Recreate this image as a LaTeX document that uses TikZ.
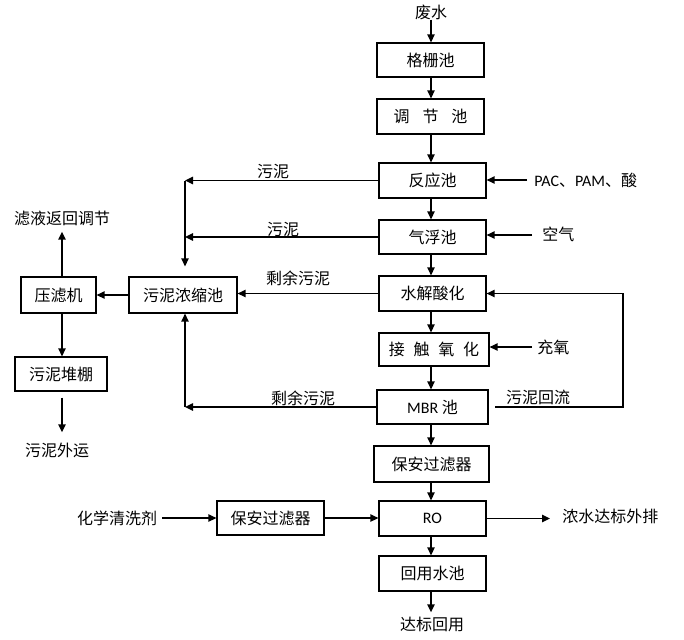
\documentclass[tikz,border=0pt]{standalone}
\usepackage{fontspec}
\setmainfont{Noto Sans CJK SC}
\newfontfamily\lat{Carlito}
\usetikzlibrary{arrows.meta,calc}
\begin{document}
\begin{tikzpicture}[x=0.75pt,y=-0.75pt,
 box/.style={draw,line width=0.9pt,inner sep=0pt,font=\fontsize{12}{14}\selectfont},
 sz/.style 2 args={minimum width=#1*0.75pt,minimum height=#2*0.75pt},
 lbl/.style={inner sep=0pt,font=\fontsize{12}{14}\selectfont},
 arr/.style={line width=1.1pt,-{Triangle[length=6pt,width=5.5pt]}},
 ln/.style={line width=1.1pt}]
\useasboundingbox[fill=white] (0,0) rectangle (684,639);
% main column
\node[lbl] (fs) at (431,12) {废水};
\node[box,sz={107}{34}] (gs) at (430.5,60) {格栅池};
\node[box,sz={107}{35}] (tj) at (430.5,116.5) {调\hspace{0.8em}节\hspace{0.8em}池};
\node[box,sz={107}{35}] (fy) at (432.5,180.5) {反应池};
\node[box,sz={107}{34}] (qf) at (432.5,237) {气浮池};
\node[box,sz={107}{35}] (sj) at (432.5,293.5) {水解酸化};
\node[box,sz={110}{33}] (jc) at (434,349.5) {接\hspace{0.55em}触\hspace{0.55em}氧\hspace{0.55em}化};
\node[box,sz={111}{34}] (mbr) at (432.5,407) {{\lat MBR} 池};
\node[box,sz={115}{36}] (bf1) at (431.5,464) {保安过滤器};
\node[box,sz={107}{35}] (ro) at (432.5,518.5) {\lat RO};
\node[box,sz={107}{35}] (hy) at (432.5,573.5) {回用水池};
\node[lbl] (db) at (432,624) {达标回用};
% bottom left / right
\node[box,sz={107}{34}] (bf2) at (270.5,518) {保安过滤器};
\node[lbl] (hx) at (117,518) {化学清洗剂};
\node[lbl,anchor=west] (ns) at (562,516) {浓水达标外排};
% inputs on the right
\node[lbl,anchor=west] (pac) at (534,180) {{\lat PAC}、{\lat PAM}、酸};
\node[lbl,anchor=west] (kq) at (542,234) {空气};
\node[lbl,anchor=west] (cy) at (537,347) {充氧};
% sludge treatment
\node[box,sz={108}{36}] (nc) at (183,295) {污泥浓缩池};
\node[box,sz={75}{36}] (ylj) at (58.5,295) {压滤机};
\node[box,sz={92}{34}] (dp) at (61,374) {污泥堆棚};
\node[lbl] (lv) at (62,218) {滤液返回调节};
\node[lbl] (wy) at (57,450) {污泥外运};
% line labels
\node[lbl] (l1) at (273,172) {污泥};
\node[lbl] (l2) at (283,230) {污泥};
\node[lbl] (l3) at (298,278) {剩余污泥};
\node[lbl] (l4) at (303,398) {剩余污泥};
\node[lbl] (l5) at (538,397) {污泥回流};
% helper coordinates
\coordinate (ax) at (431,0);
\coordinate (axL) at (62,0);
\coordinate (c1) at (185,181);
\coordinate (c4) at (623,350);
\coordinate (pacS) at (527,180);
\coordinate (kqS) at (532,235);
\coordinate (cyS) at (532,347);
% main flow
\draw[arr] (fs.south -| ax) -- (gs.north -| ax);
\draw[arr] (gs.south -| ax) -- (tj.north -| ax);
\draw[arr] (tj.south -| ax) -- (fy.north -| ax);
\draw[arr] (fy.south -| ax) -- (qf.north -| ax);
\draw[arr] (qf.south -| ax) -- (sj.north -| ax);
\draw[arr] (sj.south -| ax) -- (jc.north -| ax);
\draw[arr] (jc.south -| ax) -- (mbr.north -| ax);
\draw[arr] (mbr.south -| ax) -- (bf1.north -| ax);
\draw[arr] (bf1.south -| ax) -- (ro.north -| ax);
\draw[arr] (ro.south -| ax) -- (hy.north -| ax);
\draw[arr,shorten >=3pt] (hy.south -| ax) -- (db.north -| ax);
% inputs
\draw[arr] (pacS) -- (pacS -| fy.east);
\draw[arr] (kqS) -- (kqS -| qf.east);
\draw[arr] (cyS) -- (cyS -| jc.east);
% sludge lines
\draw[arr] (fy.west) -- (fy.west -| c1);
\draw[arr,shorten >=7.5pt] (c1) -- (nc.north -| c1);
\draw[arr] (qf.west) -- (qf.west -| c1);
\draw[arr] (sj.west) -- (sj.west -| nc.east);
\draw[arr] (mbr.west) -- (mbr.west -| c1);
\draw[arr] (mbr.west -| c1) -- (nc.south -| c1);
\draw[arr] (nc.west) -- (ylj.east);
\draw[arr,shorten >=4.5pt] (ylj.north -| axL) -- (lv.south -| axL);
\draw[arr] (ylj.south -| axL) -- (dp.north -| axL);
\draw[arr,shorten <=4.5pt,shorten >=7.5pt] (dp.south -| axL) -- (wy.north -| axL);
% return sludge
\draw[arr,shorten <=5pt] (mbr.east) -| (c4) |- (sj.east);
% bottom row
\draw[arr,shorten <=3.75pt] (bf2.west -| hx.east) -- (bf2.west);
\draw[arr] (bf2.east) -- (bf2.east -| ro.west);
\draw[arr,shorten >=9pt] (ro.east) -- (ro.east -| ns.west);
\end{tikzpicture}
\end{document}
